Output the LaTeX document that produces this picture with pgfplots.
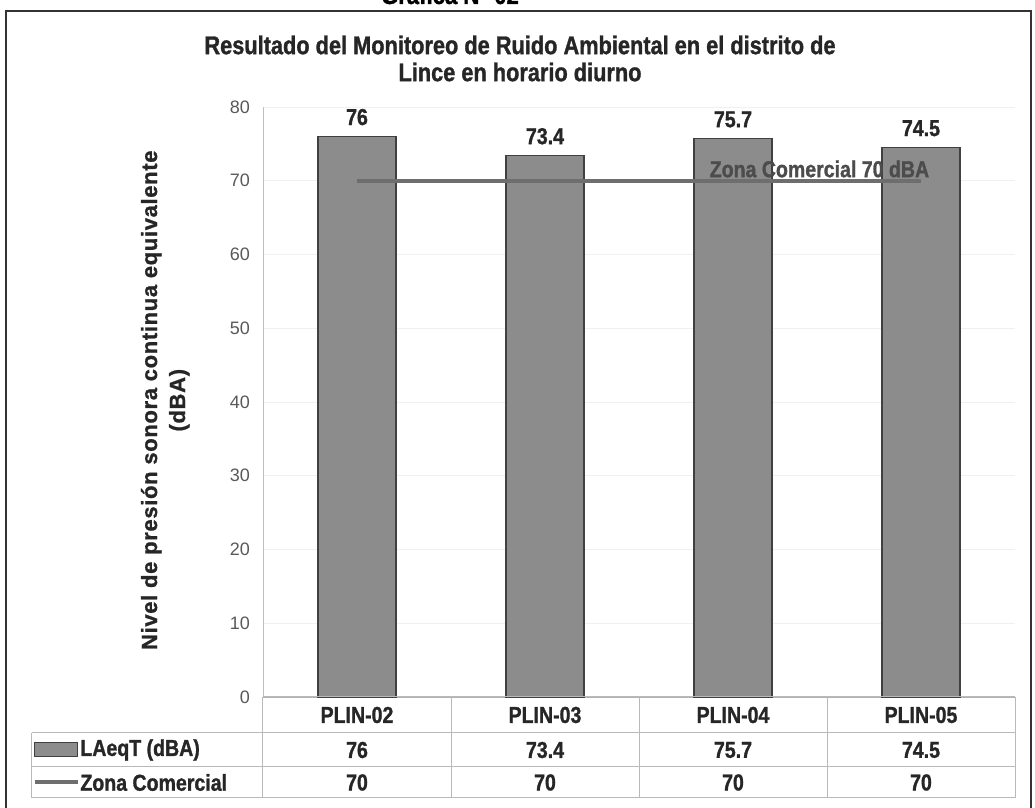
\documentclass[border=0pt]{standalone}
\usepackage{pgfplots}
\pgfplotsset{compat=1.18}
\usepackage{fontspec}
\setmainfont{Liberation Sans}
\newfontfamily\nar{Liberation Sans}[FakeStretch=0.85, UprightFont={* Bold}, FakeBold=1.2]
\newfontfamily\bsans{Liberation Sans}[UprightFont={* Bold}, LetterSpace=3, FakeBold=1]
\definecolor{barfill}{HTML}{8C8C8C}
\definecolor{linegray}{HTML}{6E6E6E}
\begin{document}
\begin{tikzpicture}
\begin{axis}[
  /pgf/number format/assume math mode=true,
  scale only axis, width=376pt, height=295pt,
  xmin=-0.5, xmax=3.5, ymin=0, ymax=80,
  ytick={0,10,...,80},
  xtick=data, xticklabels={PLIN-02,PLIN-03,PLIN-04,PLIN-05},
  xticklabel style={font=\nar\fontsize{11.5}{13}\selectfont, anchor=center, yshift=-9pt, text=black!85},
  yticklabel style={font=\fontsize{9}{10}\selectfont, text=black!65, xshift=-3pt},
  major tick length=0pt,
  axis x line*=bottom, axis y line*=left,
  x axis line style={draw=gray!60, -}, y axis line style={draw=gray!50, -},
  ymajorgrids, grid style={gray!12},
  clip=false,
  ylabel={Nivel de presión sonora continua equivalente\\(dBA)},
  every axis y label/.style={at={(axis description cs:-0.13,0.503)}, rotate=90, anchor=center,
    font=\bsans\fontsize{11}{14}\selectfont, align=center, text=black!85},
]
\addplot[ybar, bar width=39pt, fill=barfill, draw=black!75, line width=0.6pt,
  nodes near coords,
  nodes near coords style={font=\nar\fontsize{11.5}{13}\selectfont, text=black!85, yshift=2pt}]
  coordinates {(0,76) (1,73.4) (2,75.7) (3,74.5)};
\addplot[sharp plot, line width=2pt, color=linegray, mark=none]
  coordinates {(0,70) (3,70)};
\node[font=\nar\fontsize{11.5}{13}\selectfont, text=black!70] at (axis cs:2.46,71.6) {Zona Comercial 70 dBA};
% table values
\addplot[draw=none, mark=none, nodes near coords, point meta=explicit symbolic,
  nodes near coords style={anchor=center, font=\nar\fontsize{11.5}{13}\selectfont, text=black!85}]
  coordinates {(0,-7.19) [76] (1,-7.19) [73.4] (2,-7.19) [75.7] (3,-7.19) [74.5]};
\addplot[draw=none, mark=none, nodes near coords, point meta=explicit symbolic,
  nodes near coords style={anchor=center, font=\nar\fontsize{11.5}{13}\selectfont, text=black!85}]
  coordinates {(0,-11.59) [70] (1,-11.59) [70] (2,-11.59) [70] (3,-11.59) [70]};
\end{axis}
% table grid
\begin{scope}[gray!55, line width=0.5pt]
\draw (0,0) -- (376pt,0);
\draw (-115.5pt,-18pt) -- (376pt,-18pt);
\draw (-115.5pt,-35pt) -- (376pt,-35pt);
\draw (-115.5pt,-50.5pt) -- (376pt,-50.5pt);
\foreach \x in {0,94,188,282,376} \draw (\x pt,0) -- (\x pt,-50.5pt);
\draw (-115.5pt,-18pt) -- (-115.5pt,-50.5pt);
\end{scope}
\draw[fill=barfill, draw=black!75, line width=0.5pt] (-114pt,-23pt) rectangle (-92.5pt,-30pt);
\draw[linegray, line width=2pt] (-114pt,-42.75pt) -- (-92.5pt,-42.75pt);
\node[anchor=west, inner sep=0pt, font=\nar\fontsize{11.5}{13}\selectfont, text=black!85] at (-91.5pt,-26.5pt) {LAeqT (dBA)};
\node[anchor=west, inner sep=0pt, font=\nar\fontsize{11.5}{13}\selectfont, text=black!85] at (-91.5pt,-42.75pt) {Zona Comercial};
% titles
\node[align=center, font=\nar\fontsize{12.8}{13.5}\selectfont, text=black!85] at (128.5pt,319.25pt)
  {Resultado del Monitoreo de Ruido Ambiental en el distrito de\\Lince en horario diurno};
\node[anchor=base, font=\nar\fontsize{13}{15}\selectfont] at (93.5pt,346.5pt) {Gráfica N° 02};
% frame
\draw[line width=1.2pt, black!80] (-128.5pt,-60pt) -- (-128.5pt,343pt) -- (384pt,343pt) -- (384pt,-60pt);
\pgfresetboundingbox
\useasboundingbox (-131.5pt,-55.5pt) rectangle (386pt,348.5pt);
\end{tikzpicture}
\end{document}
